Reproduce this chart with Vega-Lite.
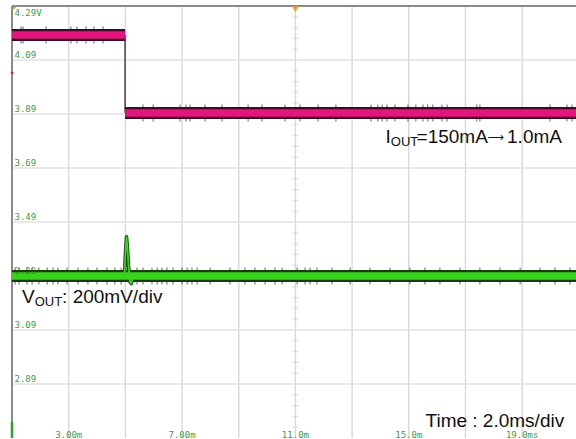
{
  "$schema": "https://vega.github.io/schema/vega-lite/v6.json",
  "width": 564,
  "height": 432,
  "autosize": {"type": "none"},
  "padding": {"left": 12, "top": 6, "right": 0, "bottom": 1},
  "background": "white",
  "config": {"view": {"stroke": null}},
  "data": {"values": [{}]},
  "datasets": {
    "pink": [
      {"seg": "before", "t": 1, "v": 4.183},
      {"seg": "before", "t": 4.99, "v": 4.183},
      {"seg": "after", "t": 4.99, "v": 3.894},
      {"seg": "after", "t": 20.9, "v": 3.894}
    ],
    "green": [
      {"t": 1, "v": 3.29},
      {"t": 20.9, "v": 3.29}
    ],
    "spike": [
      {"t": 4.97, "v": 3.29},
      {"t": 5.0, "v": 3.37},
      {"t": 5.04, "v": 3.435},
      {"t": 5.07, "v": 3.4},
      {"t": 5.11, "v": 3.33},
      {"t": 5.16, "v": 3.268},
      {"t": 5.21, "v": 3.262},
      {"t": 5.26, "v": 3.29}
    ],
    "pinkNoise": [
      {"t": 1.32, "v": 4.183}, {"t": 1.39, "v": 4.183}, {"t": 2.2, "v": 4.183}, {"t": 3.08, "v": 4.183},
      {"t": 3.29, "v": 4.183}, {"t": 3.61, "v": 4.183}, {"t": 3.89, "v": 4.183}, {"t": 4.21, "v": 4.183},
      {"t": 5.62, "v": 3.894}, {"t": 5.98, "v": 3.894}, {"t": 6.93, "v": 3.894}, {"t": 7.14, "v": 3.894},
      {"t": 7.28, "v": 3.894}, {"t": 7.81, "v": 3.894}, {"t": 8.41, "v": 3.894}, {"t": 9.33, "v": 3.894},
      {"t": 9.82, "v": 3.894}, {"t": 10.63, "v": 3.894}, {"t": 11.16, "v": 3.894}, {"t": 11.8, "v": 3.894},
      {"t": 12.43, "v": 3.894}, {"t": 13.67, "v": 3.894}, {"t": 13.91, "v": 3.894}, {"t": 14.06, "v": 3.894},
      {"t": 14.23, "v": 3.894}, {"t": 14.51, "v": 3.894}, {"t": 14.97, "v": 3.894}, {"t": 15.25, "v": 3.894},
      {"t": 15.5, "v": 3.894}, {"t": 15.67, "v": 3.894}, {"t": 15.85, "v": 3.894}, {"t": 16.17, "v": 3.894},
      {"t": 16.35, "v": 3.894}, {"t": 17.4, "v": 3.894}, {"t": 17.51, "v": 3.894}, {"t": 19.98, "v": 3.894},
      {"t": 20.58, "v": 3.894}, {"t": 20.76, "v": 3.894}
    ],
    "greenNoise": [
      {"t": 1.11, "v": 3.29}, {"t": 1.25, "v": 3.29}, {"t": 1.53, "v": 3.29}, {"t": 1.71, "v": 3.29},
      {"t": 1.95, "v": 3.29}, {"t": 2.24, "v": 3.29}, {"t": 2.45, "v": 3.29}, {"t": 2.62, "v": 3.29},
      {"t": 2.94, "v": 3.29}, {"t": 3.33, "v": 3.29}, {"t": 3.68, "v": 3.29}, {"t": 4.0, "v": 3.29},
      {"t": 4.35, "v": 3.29}, {"t": 4.63, "v": 3.29}, {"t": 4.85, "v": 3.29}, {"t": 5.41, "v": 3.29},
      {"t": 5.62, "v": 3.29}, {"t": 5.94, "v": 3.29}, {"t": 6.12, "v": 3.29}, {"t": 6.29, "v": 3.29},
      {"t": 6.47, "v": 3.29}, {"t": 6.68, "v": 3.29}, {"t": 7.0, "v": 3.29}, {"t": 7.18, "v": 3.29},
      {"t": 7.35, "v": 3.29}, {"t": 7.53, "v": 3.29}, {"t": 7.99, "v": 3.29}, {"t": 8.69, "v": 3.29},
      {"t": 9.22, "v": 3.29}, {"t": 9.57, "v": 3.29}, {"t": 9.93, "v": 3.29}, {"t": 10.28, "v": 3.29},
      {"t": 10.53, "v": 3.29}, {"t": 11.06, "v": 3.29}, {"t": 11.34, "v": 3.29}, {"t": 11.52, "v": 3.29},
      {"t": 11.76, "v": 3.29}, {"t": 12.29, "v": 3.29}, {"t": 12.93, "v": 3.29}, {"t": 13.63, "v": 3.29},
      {"t": 14.34, "v": 3.29}, {"t": 15.04, "v": 3.29}, {"t": 15.57, "v": 3.29}, {"t": 16.1, "v": 3.29},
      {"t": 16.81, "v": 3.29}, {"t": 17.51, "v": 3.29}, {"t": 18.22, "v": 3.29}, {"t": 18.93, "v": 3.29},
      {"t": 19.63, "v": 3.29}, {"t": 20.16, "v": 3.29}, {"t": 20.69, "v": 3.29}
    ],
    "xgrid": [
      {"t": 3}, {"t": 5}, {"t": 7}, {"t": 9}, {"t": 11}, {"t": 13}, {"t": 15}, {"t": 17}, {"t": 19}
    ],
    "ygrid": [
      {"v": 2.89}, {"v": 3.09}, {"v": 3.29}, {"v": 3.49}, {"v": 3.69}, {"v": 3.89}, {"v": 4.09}
    ],
    "ylabels": [
      {"v": 4.09, "label": "4.09"},
      {"v": 3.89, "label": "3.89"},
      {"v": 3.69, "label": "3.69"},
      {"v": 3.49, "label": "3.49"},
      {"v": 3.09, "label": "3.09"},
      {"v": 2.89, "label": "2.89"}
    ],
    "xlabels": [
      {"t": 3, "label": "3.00m"},
      {"t": 7, "label": "7.00m"},
      {"t": 11, "label": "11.0m"},
      {"t": 15, "label": "15.0m"},
      {"t": 19, "label": "19.0ms"}
    ],
    "minorV": [
      {"v": 2.73}, {"v": 2.77}, {"v": 2.81}, {"v": 2.85}, {"v": 2.93}, {"v": 2.97}, {"v": 3.01}, {"v": 3.05},
      {"v": 3.13}, {"v": 3.17}, {"v": 3.21}, {"v": 3.25}, {"v": 3.33}, {"v": 3.37}, {"v": 3.41}, {"v": 3.45},
      {"v": 3.53}, {"v": 3.57}, {"v": 3.61}, {"v": 3.65}, {"v": 3.73}, {"v": 3.77}, {"v": 3.81}, {"v": 3.85},
      {"v": 3.93}, {"v": 3.97}, {"v": 4.01}, {"v": 4.05}, {"v": 4.13}, {"v": 4.17}, {"v": 4.21}, {"v": 4.25}
    ]
  },
  "layer": [
    {
      "data": {"name": "xgrid"},
      "mark": {"type": "rule", "color": "#dadada", "strokeWidth": 1.5},
      "encoding": {
        "x": {"field": "t", "type": "quantitative", "scale": {"domain": [1, 20.9], "nice": false, "zero": false}, "axis": null}
      }
    },
    {
      "data": {"name": "ygrid"},
      "mark": {"type": "rule", "color": "#e2e2e2", "strokeWidth": 1.5},
      "encoding": {
        "y": {"field": "v", "type": "quantitative", "scale": {"domain": [2.69, 4.29], "nice": false, "zero": false}, "axis": null}
      }
    },
    {
      "data": {"name": "minorV"},
      "mark": {"type": "tick", "orient": "horizontal", "size": 6, "thickness": 1, "color": "#cfcfcf"},
      "encoding": {
        "x": {"datum": 11, "type": "quantitative", "axis": null},
        "y": {"field": "v", "type": "quantitative", "axis": null}
      }
    },
    {
      "mark": {"type": "rule", "color": "#8a8a8a", "strokeWidth": 2},
      "encoding": {
        "x": {"datum": 1, "type": "quantitative", "axis": null},
        "x2": {"datum": 20.9},
        "y": {"datum": 4.29, "type": "quantitative", "axis": null}
      }
    },
    {
      "mark": {"type": "rule", "color": "#8a8a8a", "strokeWidth": 2},
      "encoding": {
        "x": {"datum": 1, "type": "quantitative", "axis": null},
        "y": {"datum": 2.69, "type": "quantitative", "axis": null},
        "y2": {"datum": 4.29}
      }
    },
    {
      "data": {"name": "ylabels"},
      "mark": {"type": "text", "font": "DejaVu Sans Mono", "fontSize": 9, "color": "#3f9b3f", "align": "left", "baseline": "alphabetic", "dx": 2.5, "dy": -2},
      "encoding": {
        "x": {"datum": 1, "type": "quantitative", "axis": null},
        "y": {"field": "v", "type": "quantitative", "axis": null},
        "text": {"field": "label"}
      }
    },
    {
      "mark": {"type": "text", "font": "DejaVu Sans Mono", "fontSize": 9, "color": "#3f9b3f", "align": "left", "baseline": "top", "dx": 2.5, "dy": 3, "text": "4.29V"},
      "encoding": {
        "x": {"datum": 1, "type": "quantitative", "axis": null},
        "y": {"datum": 4.29, "type": "quantitative", "axis": null}
      }
    },
    {
      "data": {"name": "xlabels"},
      "mark": {"type": "text", "font": "DejaVu Sans Mono", "fontSize": 9, "color": "#3f9b3f", "align": "center", "baseline": "alphabetic", "dy": 0},
      "encoding": {
        "x": {"field": "t", "type": "quantitative", "axis": null},
        "y": {"datum": 2.69, "type": "quantitative", "axis": null},
        "text": {"field": "label"}
      }
    },
    {
      "data": {"name": "pinkNoise"},
      "mark": {"type": "tick", "orient": "vertical", "size": 17, "thickness": 1, "color": "#2a1a22"},
      "encoding": {
        "x": {"field": "t", "type": "quantitative", "axis": null},
        "y": {"field": "v", "type": "quantitative", "axis": null}
      }
    },
    {
      "data": {"name": "greenNoise"},
      "mark": {"type": "tick", "orient": "vertical", "size": 17, "thickness": 1, "color": "#1a2a16"},
      "encoding": {
        "x": {"field": "t", "type": "quantitative", "axis": null},
        "y": {"field": "v", "type": "quantitative", "axis": null}
      }
    },
    {
      "mark": {"type": "rule", "color": "#5a3a4a", "strokeWidth": 1.5},
      "encoding": {
        "x": {"datum": 4.99, "type": "quantitative", "axis": null},
        "y": {"datum": 4.183, "type": "quantitative", "axis": null},
        "y2": {"datum": 3.894}
      }
    },
    {
      "data": {"name": "pink"},
      "mark": {"type": "line", "color": "#3d0a24", "strokeWidth": 12, "strokeCap": "butt"},
      "encoding": {
        "x": {"field": "t", "type": "quantitative", "axis": null},
        "y": {"field": "v", "type": "quantitative", "axis": null},
        "detail": {"field": "seg"}
      }
    },
    {
      "data": {"name": "pink"},
      "mark": {"type": "line", "color": "#e3167f", "strokeWidth": 7.5, "strokeCap": "butt"},
      "encoding": {
        "x": {"field": "t", "type": "quantitative", "axis": null},
        "y": {"field": "v", "type": "quantitative", "axis": null},
        "detail": {"field": "seg"}
      }
    },
    {
      "data": {"name": "spike"},
      "mark": {"type": "line", "color": "#173d0c", "strokeWidth": 3.5, "strokeJoin": "round"},
      "encoding": {
        "x": {"field": "t", "type": "quantitative", "axis": null},
        "y": {"field": "v", "type": "quantitative", "axis": null}
      }
    },
    {
      "data": {"name": "green"},
      "mark": {"type": "line", "color": "#173d0c", "strokeWidth": 12, "strokeCap": "butt"},
      "encoding": {
        "x": {"field": "t", "type": "quantitative", "axis": null},
        "y": {"field": "v", "type": "quantitative", "axis": null}
      }
    },
    {
      "data": {"name": "green"},
      "mark": {"type": "line", "color": "#38d11e", "strokeWidth": 7.5, "strokeCap": "butt"},
      "encoding": {
        "x": {"field": "t", "type": "quantitative", "axis": null},
        "y": {"field": "v", "type": "quantitative", "axis": null}
      }
    },
    {
      "data": {"name": "spike"},
      "mark": {"type": "line", "color": "#38d11e", "strokeWidth": 1.8, "strokeJoin": "round"},
      "encoding": {
        "x": {"field": "t", "type": "quantitative", "axis": null},
        "y": {"field": "v", "type": "quantitative", "axis": null}
      }
    },
    {
      "mark": {"type": "text", "font": "DejaVu Sans Mono", "fontSize": 9, "color": "#2a5a1a", "opacity": 0.6, "align": "left", "baseline": "alphabetic", "dx": 2.5, "dy": -2, "text": "3.29"},
      "encoding": {
        "x": {"datum": 1, "type": "quantitative", "axis": null},
        "y": {"datum": 3.29, "type": "quantitative", "axis": null}
      }
    },
    {
      "mark": {"type": "rule", "color": "#2aa02a", "strokeWidth": 2.5},
      "encoding": {
        "x": {"datum": 1, "type": "quantitative", "axis": null},
        "y": {"datum": 2.749, "type": "quantitative", "axis": null},
        "y2": {"datum": 2.69}
      }
    },
    {
      "mark": {"type": "point", "shape": "square", "filled": true, "size": 6, "color": "#e3167f", "opacity": 1},
      "encoding": {
        "x": {"datum": 1, "type": "quantitative", "axis": null},
        "y": {"datum": 4.042, "type": "quantitative", "axis": null}
      }
    },
    {
      "mark": {"type": "point", "shape": "triangle-down", "filled": true, "size": 45, "color": "#f0a030", "opacity": 1},
      "encoding": {
        "x": {"datum": 11, "type": "quantitative", "axis": null},
        "y": {"datum": 4.278, "type": "quantitative", "axis": null}
      }
    },
    {
      "mark": {"type": "point", "shape": "M-1,-1L1,-1L-1,1Z", "filled": true, "size": 14, "color": "#e89a20", "opacity": 1},
      "encoding": {
        "x": {"datum": 1.09, "type": "quantitative", "axis": null},
        "y": {"datum": 4.28, "type": "quantitative", "axis": null}
      }
    },
    {
      "mark": {"type": "text", "font": "Liberation Sans", "fontSize": 19, "color": "#111111", "align": "left", "baseline": "alphabetic", "text": "I"},
      "encoding": {
        "x": {"datum": 14.18, "type": "quantitative", "axis": null},
        "y": {"datum": 3.7826, "type": "quantitative", "axis": null}
      }
    },
    {
      "mark": {"type": "text", "font": "Liberation Sans", "fontSize": 13, "color": "#111111", "align": "left", "baseline": "alphabetic", "dx": 5.3, "dy": 3, "text": "OUT"},
      "encoding": {
        "x": {"datum": 14.18, "type": "quantitative", "axis": null},
        "y": {"datum": 3.7826, "type": "quantitative", "axis": null}
      }
    },
    {
      "mark": {"type": "text", "font": "Liberation Sans", "fontSize": 19, "color": "#111111", "align": "left", "baseline": "alphabetic", "dx": 31, "text": "=150mA"},
      "encoding": {
        "x": {"datum": 14.18, "type": "quantitative", "axis": null},
        "y": {"datum": 3.7826, "type": "quantitative", "axis": null}
      }
    },
    {
      "mark": {"type": "text", "font": "DejaVu Sans", "fontSize": 11.5, "color": "#111111", "align": "left", "baseline": "alphabetic", "dx": 102, "dy": -2, "text": "⟶"},
      "encoding": {
        "x": {"datum": 14.18, "type": "quantitative", "axis": null},
        "y": {"datum": 3.7826, "type": "quantitative", "axis": null}
      }
    },
    {
      "mark": {"type": "text", "font": "Liberation Sans", "fontSize": 19, "color": "#111111", "align": "left", "baseline": "alphabetic", "dx": 121.5, "text": "1.0mA"},
      "encoding": {
        "x": {"datum": 14.18, "type": "quantitative", "axis": null},
        "y": {"datum": 3.7826, "type": "quantitative", "axis": null}
      }
    },
    {
      "mark": {"type": "text", "font": "Liberation Sans", "fontSize": 19, "color": "#111111", "align": "left", "baseline": "alphabetic", "text": "V"},
      "encoding": {
        "x": {"datum": 1.353, "type": "quantitative", "axis": null},
        "y": {"datum": 3.19, "type": "quantitative", "axis": null}
      }
    },
    {
      "mark": {"type": "text", "font": "Liberation Sans", "fontSize": 13, "color": "#111111", "align": "left", "baseline": "alphabetic", "dx": 12.7, "dy": 3, "text": "OUT"},
      "encoding": {
        "x": {"datum": 1.353, "type": "quantitative", "axis": null},
        "y": {"datum": 3.19, "type": "quantitative", "axis": null}
      }
    },
    {
      "mark": {"type": "text", "font": "Liberation Sans", "fontSize": 19, "color": "#111111", "align": "left", "baseline": "alphabetic", "dx": 40.1, "text": ": 200mV/div"},
      "encoding": {
        "x": {"datum": 1.353, "type": "quantitative", "axis": null},
        "y": {"datum": 3.19, "type": "quantitative", "axis": null}
      }
    },
    {
      "mark": {"type": "text", "font": "Liberation Sans", "fontSize": 19, "color": "#111111", "align": "left", "baseline": "alphabetic", "text": "Time : 2.0ms/div"},
      "encoding": {
        "x": {"datum": 15.59, "type": "quantitative", "axis": null},
        "y": {"datum": 2.7307, "type": "quantitative", "axis": null}
      }
    }
  ]
}
